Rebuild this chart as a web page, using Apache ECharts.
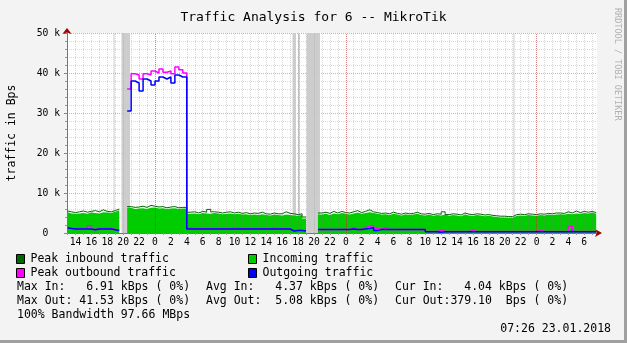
<!DOCTYPE html>
<html><head><meta charset="utf-8">
<script src="https://cdn.jsdelivr.net/npm/echarts@6/dist/echarts.min.js"></script>
<style>html,body{margin:0;padding:0;background:#f3f3f3}#c{width:627px;height:343px}</style>
</head><body><div id="c"></div>
<script>
// time axis: hours relative to first midnight; samples every half hour
const startHour = -11;
const stepHours = 0.5;
const axisMinHour = -11.07;
const axisMaxHour = 55.6;

// values in kBps
const incoming = [
  5.2, 4.9, 4.8, 4.9, 5.0, 4.8, 5.1, 5.0, 4.9, 5.2, 5.1, 5.0, 5.3, 5.7,
  null, null,
  6.3, 6.0, 6.1, 6.2, 6.0, 6.3, 6.4, 6.1, 6.2, 6.0, 6.1, 6.2, 6.0, 6.1, 6.1,
  4.8, 4.9, 4.7, 5.0, 4.9, 4.8, 5.0, 4.9, 4.7, 4.8, 4.9, 4.7, 4.8, 4.6, 4.7, 4.5, 4.6, 4.5, 4.7, 4.5, 4.4, 4.6, 4.5, 4.4, 4.6, 4.5,
  4.4, 4.3, 4.5, 3.6,
  null, null, null,
  4.6, 4.8, 4.5, 4.9, 4.7, 5.0, 4.8, 4.6, 4.9, 5.1, 4.8, 5.0, 5.2, 5.0, 4.8, 4.6,
  4.7, 4.5, 4.8, 4.6, 4.4, 4.7, 4.5, 4.6, 4.8, 4.5, 4.4, 4.6, 4.3, 4.5, 4.4, 4.6,
  4.3, 4.5, 4.4, 4.2, 4.6, 4.4, 4.3, 4.5, 4.4, 4.2, 4.3, 4.1, 4.0, 3.9, 3.9, 3.8,
  3.8,
  4.3, 4.4, 4.3, 4.5, 4.4, 4.3, 4.5, 4.4, 4.6, 4.5, 4.6, 4.7, 4.6, 4.8, 4.7, 4.9, 4.8, 5.0, 4.9, 5.1, 4.8
];
const peakInbound = [
  5.5, 5.3, 5.1, 5.3, 5.5, 5.2, 5.4, 5.6, 5.3, 5.8, 5.4, 5.3, 5.6, 6.0,
  null, null,
  6.6, 6.4, 6.5, 6.7, 6.4, 6.9, 6.7, 6.5, 6.6, 6.3, 6.5, 6.6, 6.3, 6.4, 6.4,
  5.2, 5.3, 5.0, 5.4, 5.2, 5.9, 5.3, 5.2, 5.0, 5.2, 5.3, 5.0, 5.2, 4.9, 5.1, 4.8, 5.0, 4.9, 5.2, 4.8, 4.7, 5.0, 4.8, 4.8, 5.3, 4.9,
  4.8, 4.6, 4.8, 4.0,
  null, null, null,
  5.0, 5.2, 4.9, 5.4, 5.0, 5.4, 5.1, 5.0, 5.3, 5.6, 5.1, 5.4, 5.8, 5.3, 5.1, 4.9,
  5.0, 4.8, 5.2, 4.9, 4.7, 5.0, 4.8, 4.9, 5.2, 4.8, 4.7, 4.9, 4.6, 4.8, 4.7, 5.3,
  4.6, 4.8, 4.7, 4.5, 5.0, 4.7, 4.6, 4.8, 4.7, 4.5, 4.6, 4.4, 4.3, 4.2, 4.2, 4.1,
  4.1,
  4.6, 4.7, 4.6, 4.8, 4.7, 4.6, 4.8, 4.7, 4.9, 4.8, 5.0, 5.0, 4.9, 5.3, 5.0, 5.5, 5.1, 5.4, 5.2, 5.4, 5.1
];
const outgoing = [
  1.3, 1.1, 1.0, 1.0, 1.0, 1.0, 1.0, 0.8, 1.0, 1.0, 1.0, 1.0, 0.8, 0.6,
  null, null,
  30.5, 38.0, 37.5, 35.5, 38.5, 38.0, 37.0, 38.0, 39.0, 38.5, 39.0, 37.5, 39.5, 39.0, 39.0,
  1.0, 1.0, 1.0, 1.0, 1.0, 1.0, 1.0, 1.0, 1.0, 1.0, 1.0, 1.0, 1.0, 1.0, 1.0, 1.0, 1.0, 1.0, 1.0, 1.0, 1.0, 1.0, 1.0, 1.0, 1.0, 1.0,
  0.5, 0.6, 0.6, 0.5,
  null, null, null,
  0.9, 0.9, 0.9, 0.9, 0.9, 0.9, 0.9, 0.9, 1.0, 0.9, 0.9, 1.0, 1.1, 1.3, 0.6, 0.9,
  0.9, 0.9, 0.9, 0.9, 0.9, 0.9, 0.9, 0.9, 0.9, 0.9, 0.9, 0.3, 0.3, 0.3, 0.2, 0.3,
  0.3, 0.3, 0.3, 0.3, 0.3, 0.3, 0.3, 0.3, 0.3, 0.3, 0.3, 0.3, 0.3, 0.3, 0.3, 0.3,
  0.3,
  0.3, 0.3, 0.3, 0.3, 0.3, 0.3, 0.3, 0.3, 0.3, 0.3, 0.3, 0.3, 0.3, 0.3, 0.4, 0.3, 0.3, 0.3, 0.3, 0.3, 0.3
];
const peakOutbound = [
  1.4, 1.2, 1.1, 1.1, 1.1, 1.1, 1.8, 0.9, 1.1, 1.1, 1.1, 1.1, 0.9, 0.7,
  null, null,
  36.0, 39.8, 39.5, 38.5, 39.8, 39.5, 40.5, 40.0, 41.0, 40.2, 40.5, 39.8, 41.53, 40.8, 40.0,
  1.2, 1.05, 1.05, 1.05, 1.05, 1.05, 1.05, 1.05, 1.05, 1.05, 1.05, 1.2, 1.05, 1.05, 1.05, 1.05, 1.05, 1.05, 1.05, 1.05, 1.05, 1.2, 1.05, 1.05, 1.05, 1.0,
  0.6, 0.7, 0.7, 0.6,
  null, null, null,
  0.9, 0.9, 0.9, 0.9, 0.9, 0.9, 0.9, 0.9, 1.3, 0.9, 0.9, 1.4, 1.6, 1.9, 1.1, 0.9,
  1.3, 0.9, 0.9, 0.9, 0.9, 0.9, 0.9, 0.9, 0.9, 0.9, 0.9, 0.35, 0.35, 0.35, 0.6, 0.35,
  0.35, 0.35, 0.35, 0.35, 0.35, 0.35, 0.7, 0.35, 0.35, 0.35, 0.35, 0.35, 0.35, 0.35, 0.35, 0.35,
  0.35,
  0.35, 0.35, 0.35, 0.35, 0.35, 0.35, 0.6, 0.35, 0.35, 0.35, 0.35, 0.35, 0.35, 0.35, 1.7, 0.35, 0.35, 0.35, 0.35, 0.35, 0.35
];
// periods with unknown data (hours)
const unknownPeriods = [[-5.22, -5.09], [-4.21, -3.14], [17.30, 17.74], [17.99, 18.24], [19.06, 20.75], [45.09, 45.22]];
// tick positions (hours) — labels show hour of day
const labelHours = [-10,-8,-6,-4,-2,0,2,4,6,8,10,12,14,16,18,20,22,24,26,28,30,32,34,36,38,40,42,44,46,48,50,52,54];
const gridHours = [];
for (let h = -11; h <= 55; h++) gridHours.push(h);
const midnightHours = [0, 24, 48];

const legendTop = ['Peak inbound traffic', 'Peak outbound traffic'];
const legendRight = ['Incoming traffic', 'Outgoing traffic'];
const statsCol1 = ['Max In:   6.91 kBps ( 0%)', 'Max Out: 41.53 kBps ( 0%)'];
const statsCol2 = ['Avg In:   4.37 kBps ( 0%)', 'Avg Out:  5.08 kBps ( 0%)'];
const statsCol3 = ['Cur In:   4.04 kBps ( 0%)', 'Cur Out:379.10  Bps ( 0%)'];
const bandwidthText = '100% Bandwidth 97.66 MBps';
const stampText = '07:26 23.01.2018';

const MONO = '"DejaVu Sans Mono", monospace';
const pairs = arr => arr.map((v, i) => [startHour + stepHours * i, v]);

const chart = echarts.init(document.getElementById('c'), null, {renderer: 'canvas'});

const lineSeries = (name, data, color, width, z, area) => ({
  name, type: 'line', data: pairs(data), step: 'start', symbol: 'none', showSymbol: false,
  connectNulls: false, z, color, itemStyle: {color},
  lineStyle: {color, width: area ? 0 : width},
  areaStyle: area ? {color, opacity: 1} : undefined,
  emphasis: {disabled: true}, silent: true
});

const textEl = (x, y, text, extra) => Object.assign({
  type: 'text', x, y, silent: true,
  style: Object.assign({text, font: '11.5px ' + MONO, fill: '#000', align: 'left', verticalAlign: 'middle'}, extra || {})
});

const graphics = [
  {type: 'rect', shape: {x: 624, y: 0, width: 3, height: 343}, style: {fill: '#a0a0a0'}, silent: true},
  {type: 'rect', shape: {x: 0, y: 340, width: 627, height: 3}, style: {fill: '#a0a0a0'}, silent: true},
  textEl(17, 287, statsCol1[0]), textEl(17, 301, statsCol1[1]),
  textEl(206, 287, statsCol2[0]), textEl(206, 301, statsCol2[1]),
  textEl(395, 287, statsCol3[0]), textEl(395, 301, statsCol3[1]),
  textEl(17, 315, bandwidthText),
  textEl(611, 329, stampText, {align: 'right'}),
  {type: 'text', x: 617, y: 8, rotation: -Math.PI / 2, silent: true,
   style: {text: 'RRDTOOL / TOBI OETIKER', font: '8.5px ' + MONO, fill: '#b0b0b0', align: 'left', verticalAlign: 'middle'}}
];

const legendBase = {
  orient: 'vertical', top: 252, itemWidth: 8, itemHeight: 9, itemGap: 0, icon: 'rect',
  selectedMode: false, padding: 0,
  itemStyle: {borderColor: '#000', borderWidth: 1},
  textStyle: {fontFamily: MONO, fontSize: 11.5, color: '#000', lineHeight: 14, padding: [0, 0, 0, 1]}
};

const option = {
  animation: false,
  backgroundColor: '#f3f3f3',
  title: {text: 'Traffic Analysis for 6 -- MikroTik', left: 'center', top: 6,
    textStyle: {fontFamily: MONO, fontSize: 13, fontWeight: 'normal', color: '#000'}},
  legend: [
    Object.assign({}, legendBase, {left: 16, data: legendTop}),
    Object.assign({}, legendBase, {left: 248, data: legendRight})
  ],
  grid: {left: 67, right: 30, top: 33, bottom: 110, containLabel: false, outerBoundsMode: 'none',
    backgroundColor: '#ffffff', show: true, borderWidth: 0},
  xAxis: [
    {type: 'value', min: axisMinHour, max: axisMaxHour, position: 'bottom',
     axisLine: {show: true, onZero: false, lineStyle: {color: '#777', width: 1}},
     axisTick: {show: true, customValues: gridHours, length: 2, lineStyle: {color: '#999'}},
     axisLabel: {customValues: labelHours, margin: 4, fontFamily: MONO, fontSize: 9.7, color: '#000',
       formatter: v => String(((Math.round(v) % 24) + 24) % 24)},
     splitLine: {show: false}},
    {type: 'value', min: axisMinHour, max: axisMaxHour, position: 'bottom',
     axisLine: {show: true, onZero: false, symbol: ['none', 'arrow'], symbolSize: [6, 7], symbolOffset: [0, 5],
       lineStyle: {color: '#a00000', width: 0}},
     axisTick: {show: false}, axisLabel: {show: false}, splitLine: {show: false}}
  ],
  yAxis: [
    {type: 'value', min: 0, max: 50, interval: 10, position: 'left',
     name: 'traffic in Bps', nameLocation: 'middle', nameGap: 49, nameRotate: 90,
     nameTextStyle: {fontFamily: MONO, fontSize: 11.5, color: '#000'},
     axisLine: {show: true, onZero: false, lineStyle: {color: '#777', width: 1}},
     axisTick: {show: true, length: 3, lineStyle: {color: '#888'}},
     minorTick: {show: true, splitNumber: 5, length: 2, lineStyle: {color: '#999'}},
     axisLabel: {margin: 7, fontFamily: MONO, fontSize: 9.7, color: '#000',
       formatter: v => v === 0 ? '0  ' : v + ' k'},
     splitLine: {show: true, lineStyle: {color: 'rgba(200,0,0,0.35)', type: [1, 1], width: 1}},
     minorSplitLine: {show: true, lineStyle: {color: 'rgba(120,120,120,0.28)', type: [1, 1], width: 1}}},
    {type: 'value', min: 0, max: 50, position: 'left',
     axisLine: {show: true, onZero: false, symbol: ['none', 'arrow'], symbolSize: [7, 6], symbolOffset: [0, 5],
       lineStyle: {color: '#a00000', width: 0}},
     axisTick: {show: false}, axisLabel: {show: false}, splitLine: {show: false}}
  ],
  series: [
    {name: 'hgrid', type: 'line', data: [], z: 1, silent: true,
     markLine: {silent: true, symbol: ['none', 'none'], label: {show: false}, animation: false,
       lineStyle: {color: 'rgba(120,120,120,0.28)', type: [1, 1], width: 1},
       data: gridHours.map(h => ({xAxis: h}))}},
    {name: 'mgrid', type: 'line', data: [], z: 1, silent: true,
     markLine: {silent: true, symbol: ['none', 'none'], label: {show: false}, animation: false,
       lineStyle: {color: 'rgba(200,0,0,0.4)', type: [1, 1], width: 1},
       data: midnightHours.map(h => ({xAxis: h}))}},
    lineSeries('Incoming traffic', incoming, '#00cc00', 0, 2, true),
    lineSeries('Peak inbound traffic', peakInbound, '#006600', 1, 3, false),
    lineSeries('Peak outbound traffic', peakOutbound, '#ff00ff', 1.5, 4, false),
    lineSeries('Outgoing traffic', outgoing, '#0000ff', 1.5, 5, false),
    {name: 'unknown', type: 'line', data: [], z: 8, silent: true,
     markArea: {silent: true, itemStyle: {color: '#cdcdcd', opacity: 1}, label: {show: false},
       data: unknownPeriods.map(p => [{xAxis: p[0]}, {xAxis: p[1]}])}}
  ],
  graphic: graphics
};
chart.setOption(option);
</script></body></html>
